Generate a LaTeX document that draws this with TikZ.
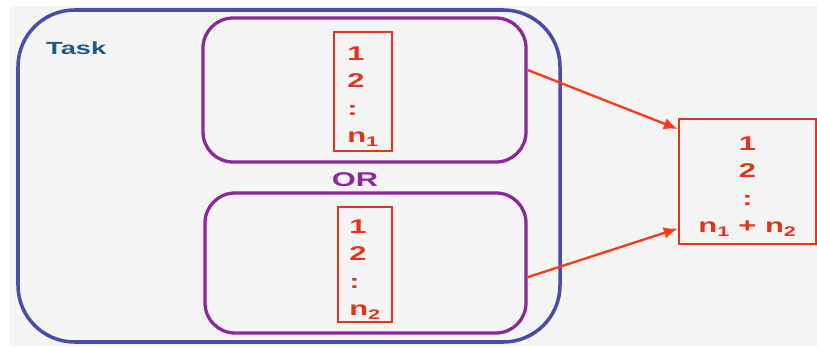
\documentclass[tikz,border=0pt]{standalone}
\usepackage{fontspec}
\setmainfont[FakeStretch=1.55]{Liberation Sans}
\usetikzlibrary{positioning,arrows.meta}
\definecolor{taskblue}{RGB}{74,76,170}
\definecolor{tasktext}{RGB}{30,90,135}
\definecolor{optpurple}{RGB}{140,40,155}
\definecolor{listred}{RGB}{228,52,28}
\definecolor{arrowred}{RGB}{255,58,30}
\newcommand*{\listtop}{\rule{0pt}{20pt}}
\tikzset{taskbox/.style={draw=taskblue, line width=3pt, rounded corners=1.7cm, inner sep=0pt},
optbox/.style={draw=optpurple, line width=2.8pt, rounded corners=0.9cm, inner sep=0pt},
listbox/.style={draw=listred, line width=2pt, text=listred, inner sep=0pt, font=\bfseries\fontsize{17}{23.5}\selectfont},
toarrow/.style={draw=arrowred, line width=2pt, -{Latex[length=12pt,width=10pt]}}}

\begin{document}
\begin{tikzpicture}
		\useasboundingbox (0,0) rectangle (24.51,10.38);
		\fill[black!4] (0.3,0) rectangle (24.51,10.2);
		\node[taskbox, minimum width=16.26cm, minimum height=9.96cm] (task) at (8.67,5.1) {};
		\node[anchor=west, text=tasktext, font=\bfseries\fontsize{15}{18}\selectfont] (tasklabel) at (1.26,8.94) {Task};
		\node[optbox, minimum width=9.69cm, minimum height=4.32cm] (optA) at (10.935,7.68) {};
		\node[optbox, minimum width=9.63cm, minimum height=4.2cm] (optB) at (10.965,2.49) {};
		\node[text=optpurple, font=\bfseries\fontsize{17}{20}\selectfont] (or) at (10.65,4.98) {OR};
		\node[listbox, align=left, minimum width=1.74cm, minimum height=3.57cm] (listA) at (10.89,7.635)
			{\listtop 1\\2\\:\\n\textsubscript{1}};
		\node[listbox, align=left, minimum width=1.62cm, minimum height=3.45cm] (listB) at (10.95,2.445)
			{\listtop 1\\2\\:\\n\textsubscript{2}};
		\node[listbox, align=center, minimum width=4.11cm, minimum height=3.75cm] (sum) at (22.425,4.935)
			{\listtop 1\\2\\:\\n\textsubscript{1} + n\textsubscript{2}};
		% connectors
		\draw[toarrow] (optA.7) -- (sum.143);
		\draw[toarrow] (optB.-5) -- (sum.214);
	\end{tikzpicture}
\end{document}
